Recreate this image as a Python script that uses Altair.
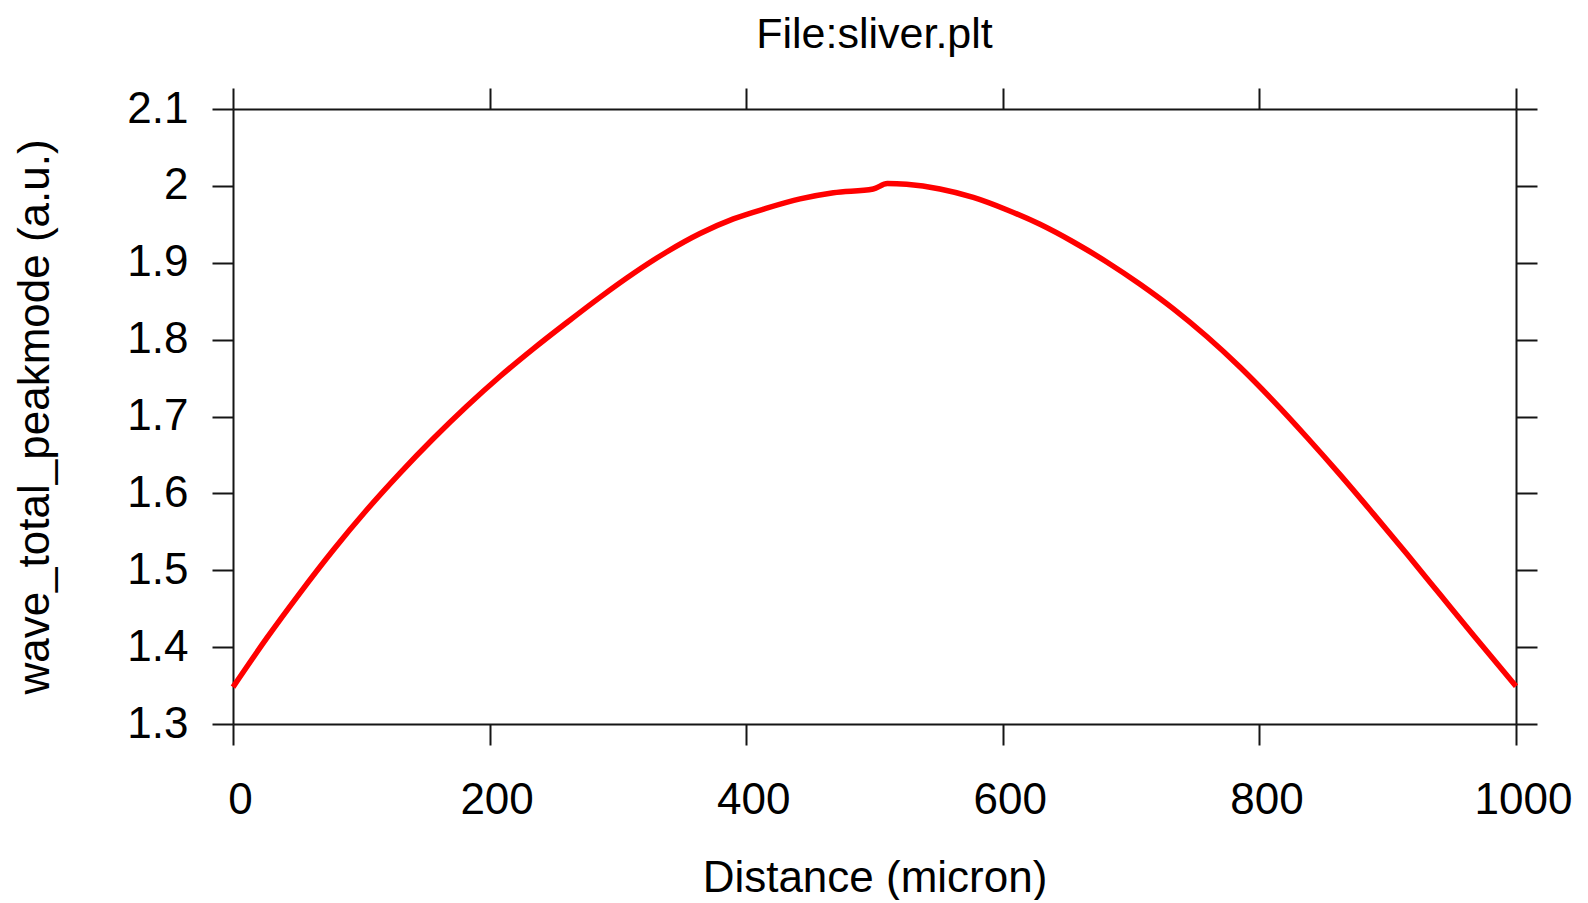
import altair as alt
import pandas as pd

distance = [0, 26, 52, 78, 104, 130, 156, 182, 208, 234,
            260, 286, 312, 338, 364, 390, 416, 442, 468, 499,
            510, 525, 551, 577, 603, 629, 655, 681, 707, 733,
            759, 785, 811, 837, 863, 889, 915, 941, 967, 1000]
peakmode = [1.348, 1.411, 1.470, 1.526, 1.578, 1.626, 1.671, 1.713, 1.752, 1.788,
            1.822, 1.855, 1.886, 1.914, 1.938, 1.957, 1.971, 1.983, 1.991, 1.996,
            2.003, 2.002, 1.996, 1.985, 1.969, 1.950, 1.927, 1.901, 1.872, 1.840,
            1.804, 1.764, 1.720, 1.673, 1.624, 1.573, 1.521, 1.468, 1.415, 1.349]
x_ticks = [0, 200, 400, 600, 800, 1000]
y_ticks = [1.3, 1.4, 1.5, 1.6, 1.7, 1.8, 1.9, 2.0, 2.1]

df = pd.DataFrame({"distance": distance, "value": peakmode})

FONT = "Liberation Sans"
AX = "#151515"
W, H = 1283, 615

common_axis = dict(
    grid=False, domainColor=AX, domainWidth=2, tickColor=AX, tickWidth=2,
    tickSize=21, labelFont=FONT, labelFontSize=44, labelColor="#000000",
    titleFont=FONT, titleFontSize=44, titleFontWeight="normal", titleColor="#000000",
    labelOverlap=False, labelFlush=False,
)

x_scale = alt.Scale(domain=[0, 1000], nice=False, zero=False)
y_scale = alt.Scale(domain=[1.3, 2.1], nice=False, zero=False)

main = alt.Chart(df).mark_line(color="#ff0000", strokeWidth=5.5, interpolate="monotone").encode(
    x=alt.X("distance:Q", scale=x_scale,
            axis=alt.Axis(orient="bottom", values=x_ticks, format="d", labelPadding=33,
                          labelOffset=7, title="Distance (micron)", titleX=W / 2, titleY=167,
                          titleBaseline="alphabetic", titleAlign="center", **common_axis)),
    y=alt.Y("value:Q", scale=y_scale,
            axis=alt.Axis(orient="left", values=y_ticks, format=".1~f", labelPadding=24,
                          title="wave_total_peakmode (a.u.)", titleAngle=270, titleX=-185,
                          titleY=H / 2, titleBaseline="alphabetic", titleAlign="center",
                          **common_axis)),
)

mirror = alt.Chart(df).mark_line(opacity=0).encode(
    x=alt.X("distance:Q", scale=x_scale,
            axis=alt.Axis(orient="top", values=x_ticks, labels=False, title=None, **common_axis)),
    y=alt.Y("value:Q", scale=y_scale,
            axis=alt.Axis(orient="right", values=y_ticks, labels=False, title=None, **common_axis)),
)

chart = alt.layer(main, mirror).resolve_axis(x="independent", y="independent").properties(
    width=W, height=H,
    title=alt.Title("File:sliver.plt", font=FONT, fontSize=43, fontWeight="normal",
                    color="#000000", anchor="middle", baseline="alphabetic", offset=-4),
    autosize=alt.AutoSizeParams(type="none"),
    padding={"left": 225, "top": 101, "right": 64, "bottom": 176},
).configure_view(strokeWidth=0).configure(background="#ffffff")

chart.save("out.html", embed_options={"renderer": "svg", "actions": False})
